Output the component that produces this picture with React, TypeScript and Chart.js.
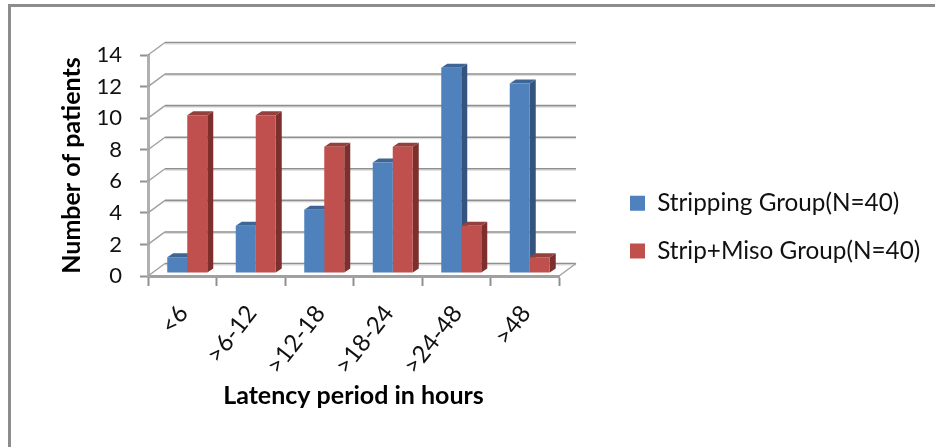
import React, { useEffect, useRef } from "react";
import { Chart, registerables } from "chart.js";

Chart.register(...registerables);

const categories = ["<6", ">6-12", ">12-18", ">18-24", ">24-48", ">48"];
const strippingValues = [1, 3, 4, 7, 13, 12];
const stripMisoValues = [10, 10, 8, 8, 3, 1];
const seriesNames = ["Stripping Group(N=40)", "Strip+Miso Group(N=40)"];
const yTitle = "Number of patients";
const xTitle = "Latency period in hours";

const FONT = "Lato";
const BLUE = { front: "#4F81BD", top: "#3E6594", side: "#34547E" };
const RED = { front: "#C0504D", top: "#94403D", side: "#7D2F2D" };
const AREA_RIGHT = 559;
const WALL_DX = 17;
const WALL_DY = 12.5;
const BAR_SHIFT_X = 5;
const BAR_SHIFT_Y = -3;
const DEPTH_X = 6;
const DEPTH_Y = 4;

const plugin3d = {
  id: "plugin3d",
  afterLayout(chart: any) {
    const l = chart.legend;
    if (!l) return;
    const pad = l.options.labels.padding;
    const w = l.width;
    const h = l.height;
    l.left = 630 - pad;
    l.right = l.left + w;
    l.top = 191 - pad;
    l.bottom = l.top + h;
  },
  beforeDraw(chart: any) {
    const ctx = chart.ctx;
    ctx.save();
    ctx.fillStyle = "#8C8C8C";
    ctx.fillRect(8, 4, 927, 3);
    ctx.fillRect(8, 4, 3, 443);
    ctx.restore();
  },
  beforeDatasetsDraw(chart: any) {
    const ctx = chart.ctx;
    const y = chart.scales.y;
    const { left, right } = chart.chartArea;
    ctx.save();
    y.ticks.forEach((t: any, i: number) => {
      const py = y.getPixelForValue(t.value);
      const by = py - WALL_DY;
      ctx.strokeStyle = "#DADADA";
      ctx.lineWidth = 1;
      ctx.beginPath();
      ctx.moveTo(left + WALL_DX, by + 1.5);
      ctx.lineTo(right + WALL_DX, by + 1.5);
      ctx.stroke();
      ctx.strokeStyle = "#8F8F8F";
      ctx.lineWidth = 1.6;
      ctx.beginPath();
      ctx.moveTo(left + WALL_DX, by);
      ctx.lineTo(right + WALL_DX, by);
      ctx.stroke();
      ctx.strokeStyle = "#A0A0A0";
      ctx.lineWidth = 1.4;
      ctx.beginPath();
      ctx.moveTo(left, py);
      ctx.lineTo(left + WALL_DX, by);
      ctx.stroke();
      if (i === 0) {
        ctx.beginPath();
        ctx.moveTo(right, py);
        ctx.lineTo(right + WALL_DX, by);
        ctx.stroke();
      }
    });
    ctx.restore();
    ctx.save();
    ctx.translate(BAR_SHIFT_X, BAR_SHIFT_Y);
    // depth faces of all bars first, series by series, so the front faces cover them
    [0, 1].forEach((idx) => {
      const c = idx === 0 ? BLUE : RED;
      chart.getDatasetMeta(idx).data.forEach((bar: any) => {
        const p = bar.getProps(["x", "y", "base", "width"], true);
        const l = p.x - p.width / 2;
        const r = p.x + p.width / 2;
        ctx.fillStyle = c.side;
        ctx.beginPath();
        ctx.moveTo(r, p.y);
        ctx.lineTo(r + DEPTH_X, p.y - DEPTH_Y);
        ctx.lineTo(r + DEPTH_X, p.base - DEPTH_Y);
        ctx.lineTo(r, p.base);
        ctx.closePath();
        ctx.fill();
        ctx.fillStyle = c.top;
        ctx.beginPath();
        ctx.moveTo(l, p.y);
        ctx.lineTo(l + DEPTH_X, p.y - DEPTH_Y);
        ctx.lineTo(r + DEPTH_X, p.y - DEPTH_Y);
        ctx.lineTo(r, p.y);
        ctx.closePath();
        ctx.fill();
      });
    });
  },
  afterDatasetsDraw(chart: any) {
    chart.ctx.restore();
  },
};

export default function App() {
  const ref = useRef<HTMLCanvasElement>(null);
  useEffect(() => {
    const chart: any = new Chart(ref.current as HTMLCanvasElement, {
      type: "bar",
      data: {
        labels: categories,
        datasets: [
          { label: seriesNames[0], data: strippingValues, backgroundColor: BLUE.front, clip: false as any },
          { label: seriesNames[1], data: stripMisoValues, backgroundColor: RED.front, clip: false as any },
        ],
      },
      options: {
        animation: false,
        responsive: false,
        layout: { padding: { top: 55, left: 0, bottom: 0, right: 0 } },
        datasets: { bar: { categoryPercentage: 0.584, barPercentage: 1 } },
        plugins: {
          title: { display: false },
          tooltip: { enabled: false },
          legend: {
            position: "right",
            align: "start",
            maxWidth: 376,
            labels: {
              boxWidth: 15,
              boxHeight: 15,
              padding: 23.5,
              color: "#111",
              font: { family: FONT, size: 24.3 },
            },
          },
        },
        scales: {
          x: {
            afterFit: (s: any) => {
              s.height = 171;
            },
            grid: { drawOnChartArea: false, drawTicks: true, tickLength: 10, tickColor: "#909090", tickWidth: 2 },
            border: { color: "#A0A0A0", width: 3 },
            ticks: {
              maxRotation: 52,
              minRotation: 52,
              padding: 14,
              labelOffset: 1,
              color: "#111",
              font: { family: FONT, size: 24 },
            },
            title: {
              display: true,
              text: xTitle,
              color: "#000",
              font: { family: FONT, size: 25, weight: "bold" },
              padding: { top: 0, bottom: 36 },
            },
          },
          y: {
            min: 0,
            max: 14,
            afterFit: (s: any) => {
              s.width = 148;
            },
            grid: { drawOnChartArea: false, drawTicks: true, tickLength: 8, tickColor: "#909090", tickWidth: 2 },
            border: { color: "#B0B0B0", width: 3 },
            ticks: {
              stepSize: 2,
              padding: 18,
              color: "#111",
              font: { family: FONT, size: 22 },
            },
            title: {
              display: true,
              text: yTitle,
              color: "#000",
              font: { family: FONT, size: 25, weight: "bold" },
              padding: { top: 57, bottom: 0 },
            },
          },
        },
      },
      plugins: [plugin3d as any],
    });
    chart.options.layout.padding.right = Math.max(0, 935 - AREA_RIGHT - chart.legend.width);
    chart.update();
    return () => chart.destroy();
  }, []);
  return (
    <div style={{ position: "fixed", left: 0, top: 0, width: 935, height: 447, background: "#fff" }}>
      <canvas ref={ref} width={935} height={447} style={{ display: "block", width: 935, height: 447 }} />
    </div>
  );
}
